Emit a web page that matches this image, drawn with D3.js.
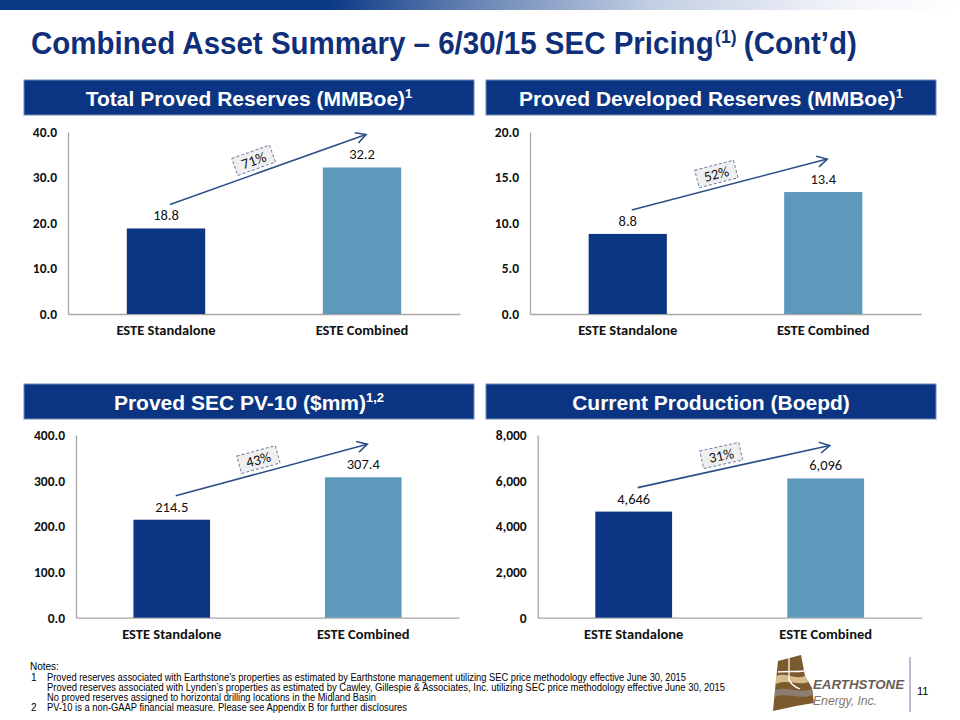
<!DOCTYPE html>
<html><head><meta charset="utf-8">
<script src="https://cdn.jsdelivr.net/npm/d3@7"></script>
<style>body{margin:0;background:#fff;} svg{display:block;}</style>
</head><body>
<svg id="chart" width="960" height="720"></svg>
<script>
// ---------------- data ----------------
const categories = ["ESTE Standalone", "ESTE Combined"];
const totalProvedReserves = [18.8, 32.2];
const provedDevelopedReserves = [8.8, 13.4];
const provedPV10 = [214.5, 307.4];
const currentProduction = [4646, 6096];
const growthLabels = ["71%", "52%", "43%", "31%"];
const yMaxima = [40, 20, 400, 8000];
const yTickValues = [[0, 10, 20, 30, 40], [0, 5, 10, 15, 20], [0, 100, 200, 300, 400], [0, 2000, 4000, 6000, 8000]];
const panelTitles = ["Total Proved Reserves (MMBoe)", "Proved Developed Reserves (MMBoe)", "Proved SEC PV-10 ($mm)", "Current Production (Boepd)"];
const panelTitleSups = ["1", "1", "1,2", ""];
const pageTitle = "Combined Asset Summary – 6/30/15 SEC Pricing";
const pageTitleSup = "(1)";
const pageTitleEnd = "(Cont’d)";
const noteLines = [
  ["", "Notes:"],
  ["1", "Proved reserves associated with Earthstone’s properties as estimated by Earthstone management utilizing SEC price methodology effective  June 30, 2015"],
  ["", "Proved reserves associated with Lynden’s properties as estimated by Cawley, Gillespie & Associates, Inc. utilizing SEC price methodology effective  June 30, 2015"],
  ["", "No proved reserves assigned to horizontal drilling locations in the Midland Basin"],
  ["2", "PV-10 is a non-GAAP financial measure. Please see Appendix B for further disclosures"]
];
const pageNumber = "11";

// ---------------- layout ----------------
const svg = d3.select("#chart");
const NAVY = "#0b3683", STEEL = "#5e98bb", HEAD = "#0b3582";
const numFont = "Carlito, Lato, 'Open Sans', sans-serif";

const defs = svg.append("defs");
const grad = defs.append("linearGradient").attr("id", "topbar")
  .attr("gradientUnits", "userSpaceOnUse").attr("x1", 0).attr("x2", 960).attr("y1", 0).attr("y2", 0);
[[0, "#0a3884"], [0.34, "#0a3884"], [0.5, "#6b87b6"], [0.68, "#c3cfe4"], [0.88, "#f2f4f9"], [1, "#ffffff"]]
  .forEach(([o, c]) => grad.append("stop").attr("offset", o).attr("stop-color", c));
svg.append("rect").attr("x", 0).attr("y", 0).attr("width", 960).attr("height", 10).attr("fill", "url(#topbar)");

// title: three separate pieces placed side by side, then scaled to the reference width
const titleFont = "'Liberation Sans Narrow', 'Arial Narrow', 'Liberation Sans', Arial, sans-serif";
const tg = svg.append("g");
const tInner = tg.append("g");
const t1 = tInner.append("text").attr("x", 0).attr("y", 0).attr("font-family", titleFont)
  .attr("font-weight", "bold").attr("font-size", 32).attr("fill", "#0f2f78").text(pageTitle);
const w1 = t1.node().getComputedTextLength();
const t2 = tInner.append("text").attr("x", w1 + 1).attr("y", -11).attr("font-family", titleFont)
  .attr("font-weight", "bold").attr("font-size", 19).attr("fill", "#0f2f78").text(pageTitleSup);
const w2 = t2.node().getComputedTextLength();
const t3 = tInner.append("text").attr("x", w1 + 1 + w2 + 8).attr("y", 0).attr("font-family", titleFont)
  .attr("font-weight", "bold").attr("font-size", 32).attr("fill", "#0f2f78").text(pageTitleEnd);
const wTot = w1 + 1 + w2 + 8 + t3.node().getComputedTextLength();
tg.attr("transform", `translate(31,54) scale(${826 / wTot},1)`);

const panels = [
  {values: totalProvedReserves, box: [24, 80, 450, 35], plot: {x0: 68, x1: 460, y0: 132, y1: 314}, fmt: d3.format(".1f")},
  {values: provedDevelopedReserves, box: [486, 80, 450, 35], plot: {x0: 530, x1: 921, y0: 132, y1: 314}, fmt: d3.format(".1f")},
  {values: provedPV10, box: [24, 384, 450, 35], plot: {x0: 76, x1: 459, y0: 435, y1: 617.7}, fmt: d3.format(".1f")},
  {values: currentProduction, box: [486, 384, 450, 35], plot: {x0: 537.7, x1: 921.7, y0: 435, y1: 617.7}, fmt: d3.format(",")}
];

panels.forEach((p, i) => {
  const g = svg.append("g");
  const [bx, by, bw, bh] = p.box;
  g.append("rect").attr("x", bx).attr("y", by).attr("width", bw).attr("height", bh)
    .attr("fill", HEAD).attr("stroke", "#6d8cbc").attr("stroke-width", 1);
  const ht = g.append("text").attr("x", bx + bw / 2).attr("y", by + 26).attr("text-anchor", "middle")
    .attr("font-family", "'Liberation Sans', Arial, sans-serif").attr("font-weight", "bold")
    .attr("font-size", 21).attr("fill", "#ffffff");
  ht.append("tspan").text(panelTitles[i]);
  if (panelTitleSups[i]) ht.append("tspan").attr("font-size", 13).attr("dy", -8).text(panelTitleSups[i]);

  const x = d3.scaleBand().domain(categories).range([p.plot.x0, p.plot.x1]).paddingInner(0.6).paddingOuter(0.3);
  const y = d3.scaleLinear().domain([0, yMaxima[i]]).range([p.plot.y1, p.plot.y0]);

  const yAx = g.append("g").attr("transform", `translate(${p.plot.x0},0)`)
    .call(d3.axisLeft(y).tickValues(yTickValues[i]).tickSize(0).tickPadding(11).tickFormat(p.fmt));
  yAx.select(".domain").attr("stroke", "#a6a6a6").attr("stroke-width", 1.3);
  yAx.selectAll("text").attr("font-family", numFont).attr("font-size", 13.5).attr("font-weight", "bold").attr("fill", "#111");

  const xAx = g.append("g").attr("transform", `translate(0,${p.plot.y1})`)
    .call(d3.axisBottom(x).tickSize(0).tickPadding(11));
  xAx.select(".domain").attr("stroke", "#a6a6a6").attr("stroke-width", 1.3);
  xAx.selectAll("text").attr("font-family", numFont).attr("font-size", 14.5).attr("font-weight", "bold").attr("fill", "#111");

  g.selectAll("rect.bar").data(p.values).join("rect").attr("class", "bar")
    .attr("x", (d, j) => x(categories[j])).attr("width", x.bandwidth())
    .attr("y", d => y(d)).attr("height", d => y(0) - y(d))
    .attr("fill", (d, j) => j === 0 ? NAVY : STEEL);

  g.selectAll("text.val").data(p.values).join("text").attr("class", "val")
    .attr("x", (d, j) => x(categories[j]) + x.bandwidth() / 2).attr("y", d => y(d) - 8)
    .attr("text-anchor", "middle").attr("font-family", numFont).attr("font-size", 14.5)
    .attr("fill", "#111").text(d => p.fmt(d));

  // growth arrow
  const sx = x(categories[0]) + x.bandwidth() / 2 + 4, sy = y(p.values[0]) - 24;
  const ex = x(categories[1]) + x.bandwidth() / 2 + 4, ey = y(p.values[1]) - 33;
  const dx = ex - sx, dy = ey - sy, L = Math.hypot(dx, dy);
  const ux = dx / L, uy = dy / L, nx = -uy, ny = ux;
  const ac = "#2c4f88";
  g.append("line").attr("x1", sx).attr("y1", sy).attr("x2", ex).attr("y2", ey)
    .attr("stroke", ac).attr("stroke-width", 1.6);
  g.append("path").attr("d", `M${ex - 10 * ux + 5.5 * nx},${ey - 10 * uy + 5.5 * ny}L${ex},${ey}L${ex - 10 * ux - 5.5 * nx},${ey - 10 * uy - 5.5 * ny}`)
    .attr("fill", "none").attr("stroke", ac).attr("stroke-width", 1.6);
  const t = 0.45, off = 13.5;
  const ang = Math.atan2(dy, dx) * 180 / Math.PI;
  const bg = g.append("g").attr("transform", `translate(${sx + dx * t + uy * off},${sy + dy * t - ux * off}) rotate(${ang})`);
  bg.append("rect").attr("x", -20).attr("y", -9).attr("width", 40).attr("height", 18)
    .attr("fill", "#efefef").attr("stroke", "#6f82a6").attr("stroke-width", 1).attr("stroke-dasharray", "3,2");
  bg.append("text").attr("x", 0).attr("y", 5).attr("text-anchor", "middle")
    .attr("font-family", numFont).attr("font-size", 14.5).attr("fill", "#111").text(growthLabels[i]);
});

// notes
const notesG = svg.append("g").attr("font-family", "'Liberation Sans', Arial, sans-serif").attr("font-size", 10).attr("fill", "#000");
const noteY = [670, 681, 691, 701, 711];
const noteLen = [0, 639, 678, 329, 360];
noteLines.forEach(([num, txt], k) => {
  if (k === 0) {
    notesG.append("text").attr("x", 30).attr("y", noteY[k]).text(txt);
  } else {
    if (num) notesG.append("text").attr("x", 31).attr("y", noteY[k]).text(num);
    notesG.append("text").attr("x", 47).attr("y", noteY[k]).attr("textLength", noteLen[k])
      .attr("lengthAdjust", "spacingAndGlyphs").text(txt);
  }
});

// logo
const logo = svg.append("g");
logo.append("path").attr("d", "M778,661 L801,655 L805,676 L812,688 L814,703 L796,706 L773,711 L775,690 Z").attr("fill", "#7b5a2e");
logo.append("path").attr("d", "M776,676 C785,672 795,680 805,676 L809,682 C798,686 787,679 776,684 Z").attr("fill", "#d8bb8c");
logo.append("path").attr("d", "M775,690 C786,686 798,694 812,689 L813,695 C799,700 787,692 775,697 Z").attr("fill", "#8d7d70");
logo.append("path").attr("d", "M789,657 L789,679 C790,684 795,687 800,689").attr("fill", "none").attr("stroke", "#fff").attr("stroke-width", 1.3);
logo.append("path").attr("d", "M778,672 C786,671 796,672 804,671").attr("fill", "none").attr("stroke", "#fff").attr("stroke-width", 1.3);
logo.append("text").attr("x", 813).attr("y", 689).attr("font-family", "'Liberation Sans', Arial, sans-serif")
  .attr("font-weight", "bold").attr("font-style", "italic").attr("font-size", 13).attr("fill", "#6b5e53")
  .attr("textLength", 91).attr("lengthAdjust", "spacingAndGlyphs").text("EARTHSTONE");
logo.append("text").attr("x", 813).attr("y", 704.5).attr("font-family", "'Liberation Sans', Arial, sans-serif")
  .attr("font-style", "italic").attr("font-size", 12).attr("fill", "#84776b")
  .attr("textLength", 64).attr("lengthAdjust", "spacingAndGlyphs").text("Energy, Inc.");
svg.append("line").attr("x1", 910).attr("x2", 910).attr("y1", 657).attr("y2", 712).attr("stroke", "#b9bdd0").attr("stroke-width", 2);
svg.append("text").attr("x", 917).attr("y", 695).attr("font-family", "'Liberation Sans', Arial, sans-serif")
  .attr("font-size", 11).attr("fill", "#000").text(pageNumber);
</script>
</body></html>
